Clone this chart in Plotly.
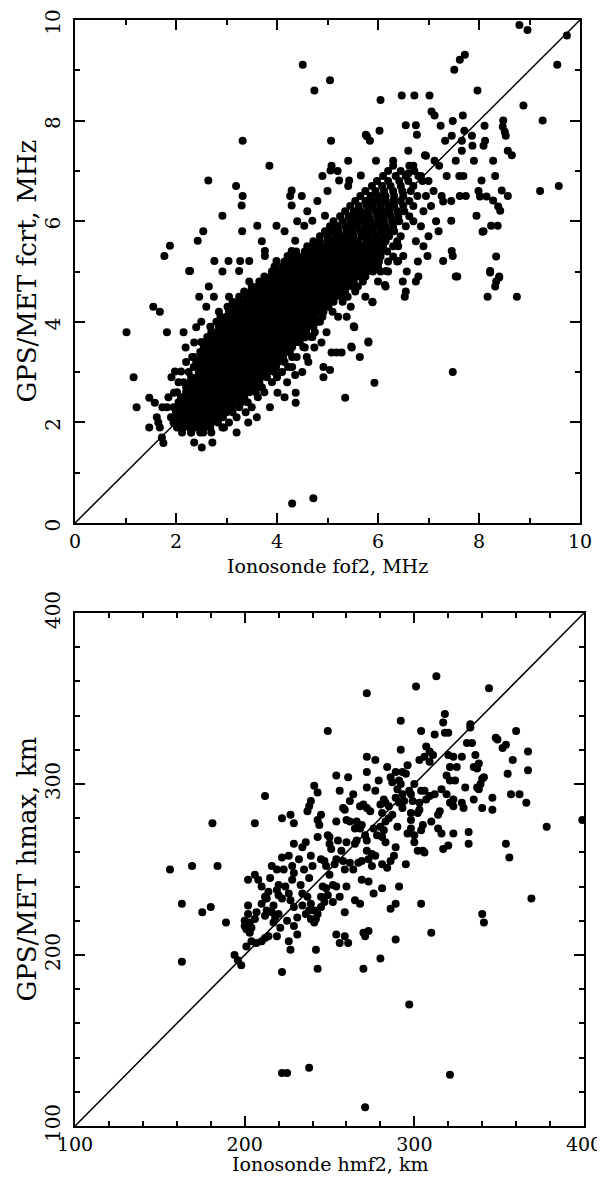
import plotly.graph_objects as go

# ---------------- top panel: foF2 (ionosonde) vs fcrt (GPS/MET), MHz ----------------
# dense core, rows of equal fcrt: (fcrt, [fof2 values])
top_core_rows = [
    (1.8, [2.12, 2.3, 2.48, 2.7]),
    (1.9, [2.02, 2.15, 2.28, 2.4, 2.55, 2.68, 2.95]),
    (2.0, [1.95, 2.08, 2.2, 2.33, 2.46, 2.58, 2.7, 2.83, 3.05]),
    (2.1, [1.9, 2.05, 2.18, 2.3, 2.43, 2.55, 2.68, 2.8, 2.93, 3.2]),
    (2.2, [2.0, 2.12, 2.25, 2.38, 2.5, 2.62, 2.75, 2.88, 3.0, 3.12, 3.38]),
    (2.3, [1.95, 2.1, 2.22, 2.35, 2.48, 2.6, 2.72, 2.85, 2.98, 3.1, 3.25, 3.5]),
    (2.4, [2.05, 2.18, 2.3, 2.42, 2.55, 2.68, 2.8, 2.92, 3.05, 3.18, 3.3, 3.42]),
    (2.5, [2.1, 2.22, 2.35, 2.48, 2.6, 2.72, 2.85, 2.98, 3.1, 3.22, 3.35, 3.62]),
    (2.6, [2.02, 2.2, 2.32, 2.45, 2.58, 2.7, 2.82, 2.95, 3.08, 3.2, 3.32, 3.45, 3.58, 3.75]),
    (2.7, [2.2, 2.32, 2.45, 2.58, 2.7, 2.82, 2.95, 3.08, 3.2, 3.32, 3.45, 3.58, 3.7]),
    (2.8, [2.15, 2.28, 2.4, 2.52, 2.65, 2.78, 2.9, 3.02, 3.15, 3.28, 3.4, 3.52, 3.65, 3.9]),
    (2.9, [2.3, 2.42, 2.55, 2.68, 2.8, 2.92, 3.05, 3.18, 3.3, 3.42, 3.55, 3.68, 3.8, 4.0]),
    (3.0, [2.25, 2.45, 2.58, 2.7, 2.82, 2.95, 3.08, 3.2, 3.32, 3.45, 3.58, 3.7, 3.82, 3.95, 4.1]),
    (3.1, [2.35, 2.48, 2.6, 2.72, 2.85, 2.98, 3.1, 3.22, 3.35, 3.48, 3.6, 3.72, 3.85, 3.98, 4.22]),
    (3.2, [2.4, 2.52, 2.65, 2.78, 2.9, 3.02, 3.15, 3.28, 3.4, 3.52, 3.65, 3.78, 3.9, 4.02, 4.15]),
    (3.3, [2.32, 2.5, 2.62, 2.75, 2.88, 3.0, 3.12, 3.25, 3.38, 3.5, 3.62, 3.75, 3.88, 4.0, 4.12, 4.3]),
    (3.4, [2.48, 2.6, 2.72, 2.85, 2.98, 3.1, 3.22, 3.35, 3.48, 3.6, 3.72, 3.85, 3.98, 4.1, 4.25]),
    (3.5, [2.55, 2.68, 2.8, 2.92, 3.05, 3.18, 3.3, 3.42, 3.55, 3.68, 3.8, 3.92, 4.05, 4.18, 4.3, 4.52]),
    (3.6, [2.5, 2.65, 2.78, 2.9, 3.02, 3.15, 3.28, 3.4, 3.52, 3.65, 3.78, 3.9, 4.02, 4.15, 4.28, 4.4]),
    (3.7, [2.62, 2.75, 2.88, 3.0, 3.12, 3.25, 3.38, 3.5, 3.62, 3.75, 3.88, 4.0, 4.12, 4.25, 4.38, 4.5, 4.68]),
    (3.8, [2.7, 2.82, 2.95, 3.08, 3.2, 3.32, 3.45, 3.58, 3.7, 3.82, 3.95, 4.08, 4.2, 4.32, 4.45, 4.58]),
    (3.9, [2.68, 2.85, 2.98, 3.1, 3.22, 3.35, 3.48, 3.6, 3.72, 3.85, 3.98, 4.1, 4.22, 4.35, 4.48, 4.6, 4.72]),
    (4.0, [2.8, 2.92, 3.05, 3.18, 3.3, 3.42, 3.55, 3.68, 3.8, 3.92, 4.05, 4.18, 4.3, 4.42, 4.55, 4.68, 4.85]),
    (4.1, [2.88, 3.0, 3.12, 3.25, 3.38, 3.5, 3.62, 3.75, 3.88, 4.0, 4.12, 4.25, 4.38, 4.5, 4.62, 4.75, 4.9]),
    (4.2, [2.85, 3.05, 3.18, 3.3, 3.42, 3.55, 3.68, 3.8, 3.92, 4.05, 4.18, 4.3, 4.42, 4.55, 4.68, 4.8, 4.92, 5.1]),
    (4.3, [3.02, 3.15, 3.28, 3.4, 3.52, 3.65, 3.78, 3.9, 4.02, 4.15, 4.28, 4.4, 4.52, 4.65, 4.78, 4.9, 5.02]),
    (4.4, [3.12, 3.25, 3.38, 3.5, 3.62, 3.75, 3.88, 4.0, 4.12, 4.25, 4.38, 4.5, 4.62, 4.75, 4.88, 5.0, 5.12, 5.3]),
    (4.5, [3.05, 3.25, 3.4, 3.52, 3.65, 3.78, 3.9, 4.02, 4.15, 4.28, 4.4, 4.52, 4.65, 4.78, 4.9, 5.02, 5.15, 5.28, 5.4]),
    (4.6, [3.35, 3.48, 3.6, 3.72, 3.85, 3.98, 4.1, 4.22, 4.35, 4.48, 4.6, 4.72, 4.85, 4.98, 5.1, 5.22, 5.35, 5.55]),
    (4.7, [3.5, 3.62, 3.75, 3.88, 4.0, 4.12, 4.25, 4.38, 4.5, 4.62, 4.75, 4.88, 5.0, 5.12, 5.25, 5.38, 5.5]),
    (4.8, [3.45, 3.65, 3.78, 3.9, 4.02, 4.15, 4.28, 4.4, 4.52, 4.65, 4.78, 4.9, 5.02, 5.15, 5.28, 5.4, 5.52, 5.7]),
    (4.9, [3.75, 3.88, 4.0, 4.12, 4.25, 4.38, 4.5, 4.62, 4.75, 4.88, 5.0, 5.12, 5.25, 5.38, 5.5, 5.62, 5.75]),
    (5.0, [3.9, 4.02, 4.15, 4.28, 4.4, 4.52, 4.65, 4.78, 4.9, 5.02, 5.15, 5.28, 5.4, 5.52, 5.65, 5.78, 5.9, 6.05]),
    (5.1, [3.95, 4.1, 4.22, 4.35, 4.48, 4.6, 4.72, 4.85, 4.98, 5.1, 5.22, 5.35, 5.48, 5.6, 5.72, 5.85, 6.0]),
    (5.2, [4.15, 4.28, 4.4, 4.52, 4.65, 4.78, 4.9, 5.02, 5.15, 5.28, 5.4, 5.52, 5.65, 5.78, 5.9, 6.02, 6.2]),
    (5.3, [4.3, 4.42, 4.55, 4.68, 4.8, 4.92, 5.05, 5.18, 5.3, 5.42, 5.55, 5.68, 5.8, 5.92, 6.05, 6.3]),
    (5.4, [4.38, 4.55, 4.68, 4.8, 4.92, 5.05, 5.18, 5.3, 5.42, 5.55, 5.68, 5.8, 5.92, 6.05, 6.18]),
    (5.5, [4.6, 4.72, 4.85, 4.98, 5.1, 5.22, 5.35, 5.48, 5.6, 5.72, 5.85, 5.98, 6.1, 6.3]),
    (5.6, [4.72, 4.85, 5.0, 5.12, 5.25, 5.38, 5.5, 5.62, 5.78, 5.9, 6.02, 6.15, 6.38]),
    (5.7, [4.85, 5.0, 5.15, 5.28, 5.4, 5.52, 5.68, 5.8, 5.95, 6.1, 6.22, 6.45]),
    (5.8, [4.95, 5.1, 5.22, 5.38, 5.5, 5.65, 5.78, 5.9, 6.05, 6.18, 6.32]),
    (5.9, [5.05, 5.2, 5.35, 5.5, 5.6, 5.75, 5.9, 6.02, 6.15, 6.3, 6.55]),
    (6.0, [5.12, 5.3, 5.45, 5.58, 5.72, 5.85, 6.0, 6.12, 6.28, 6.42]),
    (6.1, [5.25, 5.42, 5.55, 5.7, 5.82, 5.98, 6.1, 6.25, 6.4, 6.62]),
    (6.2, [5.35, 5.52, 5.65, 5.8, 5.95, 6.08, 6.22, 6.38, 6.52]),
    (6.3, [5.45, 5.62, 5.78, 5.9, 6.05, 6.2, 6.32, 6.5, 6.7]),
    (6.4, [5.55, 5.75, 5.88, 6.02, 6.15, 6.3, 6.45, 6.62]),
    (6.5, [5.65, 5.85, 6.0, 6.15, 6.32, 6.5, 6.78]),
    (6.6, [5.75, 5.95, 6.12, 6.3, 6.48, 6.65]),
    (6.7, [5.88, 6.08, 6.25, 6.45, 6.7]),
    (6.8, [5.98, 6.2, 6.42, 6.6, 6.88]),
    (6.9, [6.1, 6.35, 6.55, 6.8]),
    (7.0, [6.2, 6.45, 6.72]),
    (7.1, [6.3, 6.62]),
]

# scattered points above fcrt ~5 : (fof2, fcrt)
top_upper_pts = [
    (8.80, 9.90), (8.96, 9.80), (9.74, 9.69), (9.55, 9.11), (4.51, 9.11), (5.05, 8.80),
    (4.74, 8.60), (7.51, 9.01), (7.62, 9.21), (7.72, 9.31), (7.97, 8.60), (6.05, 8.41),
    (6.47, 8.50), (6.72, 8.50), (7.02, 8.50), (8.88, 8.30), (7.06, 8.18), (7.12, 8.10),
    (7.68, 8.10), (9.26, 8.00), (7.48, 7.99), (6.55, 7.91), (6.75, 7.91), (6.77, 7.72),
    (7.24, 7.90), (8.11, 7.90), (8.48, 8.00), (8.47, 7.88), (8.51, 7.78), (8.53, 7.70),
    (6.03, 7.80), (5.76, 7.72), (5.84, 7.60), (5.07, 7.60), (3.32, 7.60), (7.71, 7.80),
    (7.66, 7.60), (7.46, 7.70), (7.33, 7.60), (7.86, 7.70), (7.87, 7.50), (8.12, 7.60),
    (8.09, 7.50), (8.57, 7.40), (8.65, 7.31), (7.66, 7.40), (3.85, 7.10), (5.41, 7.20),
    (5.08, 7.10), (5.06, 7.01), (5.96, 7.20), (6.93, 7.31), (7.12, 7.20), (7.21, 7.10),
    (7.54, 7.20), (7.90, 7.20), (8.28, 7.20), (8.32, 6.90), (8.05, 6.81), (2.64, 6.81),
    (3.19, 6.70), (3.32, 6.50), (3.30, 6.31), (4.29, 6.61), (4.26, 6.50), (4.29, 6.31),
    (4.49, 6.50), (5.23, 6.81), (5.43, 6.81), (5.41, 6.70), (5.66, 6.91), (9.21, 6.60),
    (9.58, 6.70), (8.57, 6.50), (8.45, 6.61), (8.28, 6.41), (8.38, 6.29), (8.42, 6.21),
    (8.15, 6.49), (7.99, 6.60), (8.02, 6.49), (7.74, 6.50), (7.95, 6.11), (8.24, 5.91),
    (8.37, 5.91), (8.09, 5.80), (7.45, 6.01), (8.34, 5.30), (8.22, 5.01), (2.92, 6.11),
    (3.61, 5.91), (3.99, 5.91), (3.31, 5.80), (2.54, 5.80), (2.43, 5.61), (1.88, 5.51),
    (1.77, 5.31), (2.28, 5.01), (2.76, 5.21), (3.04, 5.21), (3.27, 5.21), (3.45, 5.21),
    (3.76, 5.41), (3.76, 5.31), (3.99, 5.21), (4.21, 5.31), (4.29, 5.41), (4.36, 5.61),
    (4.54, 5.91), (4.70, 6.01), (4.95, 6.11), (7.46, 5.41), (7.48, 5.31), (7.29, 5.21),
    (6.98, 5.31), (6.79, 5.20), (6.40, 5.21), (6.50, 5.31), (7.36, 6.90), (7.61, 6.90),
    (7.69, 6.90), (7.26, 6.50), (7.29, 6.39), (7.45, 6.40), (7.62, 6.50), (8.07, 5.79),
    (8.40, 4.88), (7.54, 4.90), (2.92, 5.00), (3.25, 5.01), (2.26, 5.01), (6.14, 4.73),
    (6.16, 5.01), (6.40, 5.50), (6.38, 5.20), (6.95, 7.30), (5.78, 7.69), (6.85, 6.90),
    (7.00, 6.80), (7.10, 6.60), (6.95, 6.50), (7.05, 6.30), (6.90, 6.20), (7.15, 6.00),
    (6.85, 5.90), (7.00, 5.70), (6.75, 5.60), (6.90, 5.50), (7.20, 5.80), (6.70, 6.00),
    (4.60, 6.20), (4.80, 6.40), (5.00, 6.60), (4.90, 6.90), (5.20, 7.00), (6.60, 7.40),
    (6.30, 7.20), (6.70, 7.10), (6.60, 6.95), (4.40, 6.00), (4.15, 5.80), (3.70, 5.60),
]

# scattered points below fcrt ~5 : (fof2, fcrt)
top_lower_pts = [
    (1.02, 3.79), (1.55, 4.30), (1.68, 4.20), (1.82, 3.79), (2.15, 3.79), (2.40, 3.89),
    (2.46, 4.50), (2.65, 4.70), (2.36, 3.59), (2.19, 3.49), (1.16, 2.90), (1.22, 2.30),
    (1.47, 2.49), (1.58, 2.39), (1.73, 2.30), (1.82, 2.30), (1.62, 2.10), (1.65, 2.00),
    (1.68, 1.90), (1.47, 1.90), (1.72, 1.70), (1.75, 1.59), (1.91, 2.90), (1.98, 3.01),
    (2.10, 3.01), (1.96, 2.59), (2.36, 1.60), (2.51, 1.50), (2.72, 1.60), (2.30, 1.80),
    (2.54, 1.80), (2.92, 1.90), (3.20, 1.80), (3.43, 2.00), (3.60, 2.10), (3.86, 2.30),
    (4.01, 2.59), (4.37, 2.59), (4.37, 2.39), (4.36, 2.94), (4.39, 3.30), (4.59, 3.30),
    (4.62, 3.20), (4.92, 3.10), (5.05, 3.04), (4.92, 2.90), (5.35, 2.49), (5.93, 2.79),
    (5.64, 3.30), (5.48, 3.49), (5.81, 3.59), (5.08, 3.39), (5.28, 3.39), (5.18, 3.39),
    (4.88, 3.59), (4.74, 3.49), (4.55, 3.69), (4.55, 3.49), (5.53, 3.89), (4.98, 3.79),
    (4.75, 3.79), (5.21, 4.10), (5.38, 4.10), (5.46, 4.30), (5.89, 4.39), (6.15, 4.70),
    (6.55, 4.60), (6.53, 4.50), (6.49, 4.80), (6.80, 4.90), (6.75, 4.80), (7.57, 4.90),
    (8.22, 4.98), (8.40, 4.90), (8.34, 4.80), (8.32, 4.70), (8.17, 4.50), (8.75, 4.50),
    (7.48, 3.00), (4.30, 0.39), (4.72, 0.49), (6.20, 5.00), (6.57, 5.00), (5.52, 3.91),
    (5.81, 3.61), (5.47, 3.51), (5.89, 4.40), (4.20, 2.80), (4.30, 3.10), (4.45, 3.60),
    (4.60, 3.90), (4.80, 4.00), (4.15, 2.50), (4.50, 3.00), (4.70, 3.70), (4.25, 3.40),
    (5.00, 4.40), (5.25, 4.60), (5.60, 4.70), (5.75, 4.50), (6.00, 4.80), (2.50, 4.00),
    (2.60, 4.30), (2.75, 4.50), (2.35, 3.30), (2.20, 3.20), (2.05, 2.80), (1.85, 2.50),
]

# ---------------- bottom panel: hmF2 (ionosonde) vs hmax (GPS/MET), km ----------------
hm_left_pts = [
    (249, 331), (241, 299), (243, 295), (239, 290), (238, 287), (237, 284), (212, 293),
    (227, 282), (229, 277), (222, 280), (245, 282), (243, 279), (244, 276), (206, 277),
    (181, 277), (243, 269), (249, 270), (229, 265), (234, 263), (222, 257), (239, 258),
    (156, 250), (169, 252), (184, 252), (219, 250), (223, 250), (228, 252), (229, 248),
    (228, 244), (245, 256), (247, 255), (248, 252), (238, 245), (206, 247), (208, 244),
    (215, 245), (202, 244), (214, 237), (212, 234), (220, 241), (219, 238), (220, 235),
    (222, 233), (224, 240), (226, 236), (227, 232), (234, 236), (237, 234), (239, 230),
    (238, 226), (241, 226), (236, 224), (239, 221), (242, 221), (241, 219), (243, 224),
    (246, 240), (245, 234), (229, 228), (231, 222), (229, 217), (231, 212), (225, 220),
    (226, 208), (163, 230), (175, 225), (180, 228), (189, 219), (202, 229), (202, 224),
    (200, 220), (200, 217), (201, 215), (204, 216), (203, 213), (207, 225), (206, 221),
    (203, 219), (210, 230), (213, 233), (212, 223), (213, 226), (216, 225), (218, 222),
    (220, 224), (217, 219), (219, 211), (221, 216), (201, 205), (204, 208), (207, 207),
    (210, 208), (212, 210), (214, 211), (194, 200), (196, 197), (198, 194), (163, 196),
    (222, 190), (227, 203), (242, 203), (243, 192), (222, 131), (225, 131), (238, 134),
    (248, 239), (249, 235), (247, 231), (245, 228), (233, 241), (235, 250), (240, 252),
    (232, 256), (236, 266), (226, 258), (216, 252), (210, 240), (217, 229), (234, 229),
]

hm_right_pts = [
    (272, 353), (301, 357), (313, 363), (344, 356), (318, 341), (317, 336), (292, 337),
    (304, 331), (312, 329), (318, 330), (320, 330), (333, 335), (333, 333), (360, 331),
    (348, 327), (349, 326), (292, 320), (307, 322), (309, 319), (303, 314), (306, 316),
    (309, 313), (311, 317), (320, 317), (323, 316), (321, 310), (325, 310), (328, 316),
    (331, 324), (334, 324), (336, 317), (338, 312), (337, 309), (335, 310), (354, 323),
    (352, 321), (358, 314), (367, 319), (367, 308), (355, 306), (272, 316), (277, 314),
    (272, 307), (254, 305), (261, 304), (286, 304), (289, 307), (291, 302), (295, 306),
    (296, 311), (293, 307), (287, 301), (292, 300), (319, 305), (321, 302), (324, 302),
    (340, 303), (341, 304), (337, 298), (339, 300), (338, 297), (264, 294), (272, 298),
    (277, 296), (290, 297), (293, 294), (297, 296), (298, 294), (289, 292), (291, 289),
    (294, 290), (299, 290), (303, 289), (307, 291), (309, 293), (312, 294), (306, 296),
    (304, 296), (319, 294), (321, 289), (323, 291), (323, 287), (328, 289), (329, 286),
    (335, 291), (340, 286), (346, 292), (346, 285), (357, 294), (362, 294), (366, 289),
    (282, 291), (283, 289), (280, 288), (285, 287), (270, 288), (268, 287), (272, 286),
    (274, 284), (258, 286), (259, 285), (254, 278), (260, 279), (266, 278), (269, 276),
    (268, 274), (265, 274), (262, 278), (281, 283), (287, 282), (283, 278), (280, 275),
    (282, 273), (281, 269), (283, 266), (276, 274), (271, 270), (272, 267), (266, 267),
    (265, 265), (260, 266), (255, 267), (250, 269), (250, 265), (251, 262), (257, 261),
    (254, 256), (253, 253), (258, 255), (262, 254), (264, 250), (259, 250), (267, 254),
    (269, 255), (272, 261), (275, 259), (277, 258), (273, 256), (275, 252), (281, 253),
    (284, 251), (286, 255), (288, 258), (289, 263), (295, 253), (293, 286), (298, 279),
    (298, 274), (300, 270), (300, 266), (302, 261), (305, 261), (306, 260), (302, 283),
    (303, 285), (305, 276), (304, 273), (296, 271), (298, 283), (314, 282), (315, 284),
    (314, 274), (316, 271), (317, 262), (320, 264), (323, 271), (332, 272), (332, 265),
    (354, 265), (356, 257), (378, 275), (399, 279), (250, 247), (252, 241), (254, 240),
    (256, 234), (260, 240), (269, 244), (273, 243), (276, 236), (281, 239), (291, 240),
    (265, 232), (268, 230), (252, 231), (259, 225), (286, 227), (289, 230), (304, 230),
    (254, 212), (256, 207), (259, 211), (261, 207), (270, 213), (273, 214), (271, 211),
    (289, 209), (310, 213), (280, 198), (270, 192), (340, 224), (341, 219), (369, 233),
    (297, 171), (321, 130), (271, 111), (285, 280), (278, 270), (290, 275), (310, 278),
    (262, 290), (256, 296), (279, 302), (284, 310), (300, 300), (316, 297), (330, 298),
]

diag_top = [0, 10]
diag_bottom = [100, 400]

# ---------------- assemble ----------------
top_x, top_y = [], []
for fc, fos in top_core_rows:
    for fo in fos:
        top_x.append(fo)
        top_y.append(fc)
for fo, fc in top_upper_pts + top_lower_pts:
    top_x.append(fo)
    top_y.append(fc)

bot_x = [p[0] for p in hm_left_pts + hm_right_pts]
bot_y = [p[1] for p in hm_left_pts + hm_right_pts]

# the page body has an 8 px margin: the figure starts at (8, 8) in the window
OFF = 8
W, H = 605 - OFF, 1178 - OFF


def px(xp):  # window x -> paper fraction
    return (xp - OFF) / W


def py(yp):  # window y (from top) -> paper fraction
    return (H - (yp - OFF)) / H


FONT = "DejaVu Serif"

fig = go.Figure()
marker = dict(color="black", size=8, line=dict(width=0))
fig.add_trace(go.Scatter(x=top_x, y=top_y, mode="markers", marker=marker,
                         xaxis="x", yaxis="y", hoverinfo="skip"))
fig.add_trace(go.Scatter(x=diag_top, y=diag_top, mode="lines",
                         line=dict(color="black", width=1.5), xaxis="x", yaxis="y"))
fig.add_trace(go.Scatter(x=bot_x, y=bot_y, mode="markers", marker=marker,
                         xaxis="x2", yaxis="y2", hoverinfo="skip"))
fig.add_trace(go.Scatter(x=diag_bottom, y=diag_bottom, mode="lines",
                         line=dict(color="black", width=1.5), xaxis="x2", yaxis="y2"))


def ax(**kw):
    d = dict(showline=True, linecolor="black", linewidth=2, mirror="ticks",
             ticks="inside", ticklen=10, tickwidth=2, tickcolor="black",
             showgrid=False, zeroline=False, automargin=False, ticklabeloverflow="allow",
             tickfont=dict(family=FONT, size=19, color="black"))
    d.update(kw)
    return d


def minor(dt):
    return dict(dtick=dt, ticks="inside", ticklen=5, tickwidth=2, tickcolor="black", showgrid=False)


top_xdom = [px(75), px(580)]
top_ydom = [py(523), py(20)]
bot_xdom = [px(75), px(584)]
bot_ydom = [py(1126), py(613)]

yfont = dict(family=FONT, size=20, color="black")

fig.update_layout(
    width=W, height=H, margin=dict(l=0, r=0, t=0, b=0, pad=0, autoexpand=False),
    paper_bgcolor="white", plot_bgcolor="white", showlegend=False,
    font=dict(family=FONT, color="black"),
    xaxis=ax(domain=top_xdom, anchor="y", range=[0, 10], tick0=0, dtick=2, minor=minor(1),
             ticklabelstandoff=0),
    yaxis=ax(domain=top_ydom, anchor="x", range=[0, 10], tick0=0, dtick=2, minor=minor(1),
             tickangle=-90, tickfont=yfont, ticklabelstandoff=5, ticklabelshift=5),
    xaxis2=ax(domain=bot_xdom, anchor="y2", range=[100, 400], tick0=100, dtick=100,
              minor=minor(20), ticklabelstandoff=0),
    yaxis2=ax(domain=bot_ydom, anchor="x2", range=[100, 400], tick0=100, dtick=100,
              minor=minor(20), tickangle=-90, tickfont=yfont, ticklabelstandoff=5),
)

ann_font = dict(family=FONT, size=19, color="black")
yann_font = dict(family=FONT, size=26, color="black")
fig.add_annotation(x=px(327.5), y=py(566), xref="paper", yref="paper",
                   text="Ionosonde fof2, MHz", showarrow=False, font=ann_font,
                   xanchor="center", yanchor="middle")
fig.add_annotation(x=px(26), y=py(271.5), xref="paper", yref="paper",
                   text="GPS/MET fcrt, MHz", showarrow=False, font=yann_font, textangle=-90,
                   xanchor="center", yanchor="middle")
fig.add_annotation(x=px(329.5), y=py(1164), xref="paper", yref="paper",
                   text="Ionosonde hmf2, km", showarrow=False, font=ann_font,
                   xanchor="center", yanchor="middle")
fig.add_annotation(x=px(26), y=py(869.5), xref="paper", yref="paper",
                   text="GPS/MET hmax, km", showarrow=False, font=yann_font, textangle=-90,
                   xanchor="center", yanchor="middle")

fig.write_html("out.html")
